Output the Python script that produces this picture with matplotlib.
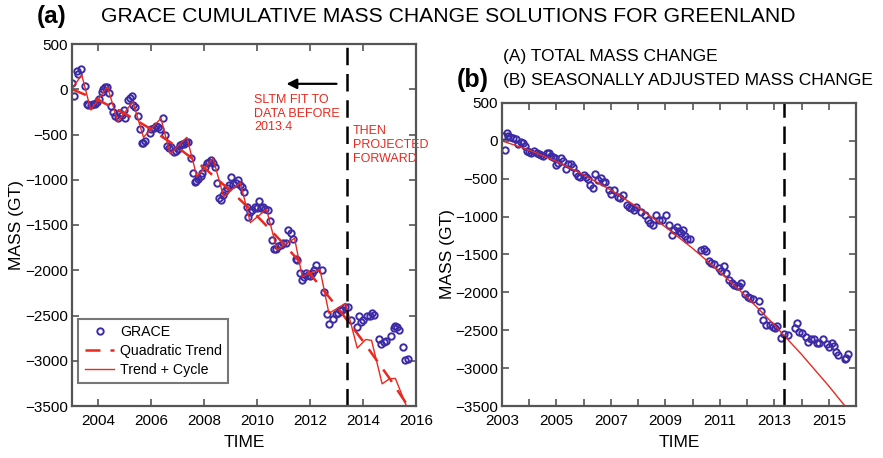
import numpy as np
import matplotlib.pyplot as plt

plt.rcParams['font.family'] = ['Liberation Sans', 'DejaVu Sans']

# ---- panel (a): GRACE total mass change (GT) ----
graceT = [2003.00, 2003.08, 2003.18, 2003.22, 2003.34, 2003.49, 2003.56, 2003.62, 2003.70, 2003.78,
          2003.86, 2003.94, 2004.02, 2004.12, 2004.19, 2004.25, 2004.33, 2004.41, 2004.48, 2004.56,
          2004.64, 2004.72, 2004.80, 2004.88, 2004.96, 2005.02, 2005.12, 2005.20, 2005.26, 2005.32,
          2005.38, 2005.50, 2005.58, 2005.64, 2005.68, 2005.76, 2005.93, 2006.00, 2006.08, 2006.16,
          2006.24, 2006.33, 2006.43, 2006.52, 2006.59, 2006.66, 2006.76, 2006.84, 2006.92, 2007.00,
          2007.08, 2007.15, 2007.22, 2007.30, 2007.38, 2007.50, 2007.58, 2007.64, 2007.70, 2007.78,
          2007.86, 2007.93, 2008.02, 2008.10, 2008.18, 2008.26, 2008.34, 2008.42, 2008.48, 2008.56,
          2008.62, 2008.70, 2008.78, 2008.86, 2008.94, 2009.02, 2009.10, 2009.18, 2009.26, 2009.34,
          2009.42, 2009.50, 2009.60, 2009.66, 2009.74, 2009.82, 2009.90, 2009.98, 2010.06, 2010.14,
          2010.22, 2010.30, 2010.40, 2010.48, 2010.56, 2010.62, 2010.70, 2010.80, 2010.88, 2010.96,
          2011.10, 2011.18, 2011.26, 2011.36, 2011.46, 2011.52, 2011.60, 2011.68, 2011.76, 2011.84,
          2011.92, 2012.00, 2012.08, 2012.14, 2012.23, 2012.44, 2012.52, 2012.62, 2012.70, 2012.86,
          2012.96, 2013.06, 2013.14, 2013.22, 2013.32, 2013.42, 2013.53, 2013.76, 2013.84, 2013.92,
          2014.00, 2014.16, 2014.26, 2014.34, 2014.42, 2014.60, 2014.68, 2014.78, 2014.86, 2015.04,
          2015.16, 2015.22, 2015.28, 2015.34, 2015.52, 2015.60, 2015.68]
graceM = [70, -80, 200, 165, 225, 40, -165, -175, -170, -165,
          -160, -140, -110, -30, 5, 25, 25, -45, -190, -250,
          -300, -320, -265, -285, -230, -320, -120, -100, -80, -175,
          -195, -300, -435, -590, -590, -575, -480, -440, -430, -410,
          -420, -440, -320, -500, -625, -645, -640, -690, -680, -655,
          -620, -610, -600, -585, -580, -765, -930, -1020, -1010, -990,
          -960, -930, -860, -815, -800, -785, -820, -855, -1035, -1200,
          -1225, -1170, -1120, -1090, -1060, -975, -1050, -1040, -1005, -1055,
          -1080, -1135, -1300, -1410, -1360, -1330, -1300, -1310, -1240, -1310,
          -1300, -1320, -1330, -1460, -1670, -1765, -1770, -1730, -1720, -1700,
          -1700, -1555, -1590, -1660, -1880, -1890, -2030, -2105, -2080, -2030,
          -2055, -2065, -2030, -2000, -1945, -2000, -2240, -2480, -2595, -2535,
          -2480, -2470, -2440, -2440, -2410, -2405, -2545, -2630, -2510, -2575,
          -2545, -2510, -2505, -2470, -2490, -2765, -2815, -2790, -2780, -2725,
          -2640, -2620, -2630, -2655, -2850, -2990, -2985]

trendYears = [2003, 2004, 2005, 2006, 2007, 2008, 2009, 2010, 2011, 2012, 2013, 2014, 2015, 2016]
quadTrend = [0, -121, -269, -443, -643, -870, -1123, -1402, -1708, -2040, -2399, -2784, -3195, -3633]

cycleT = [2003.00, 2003.37, 2003.71, 2004.34, 2004.73, 2005.30, 2005.70, 2006.36, 2006.71, 2007.34,
          2007.72, 2008.33, 2008.73, 2009.36, 2009.74, 2010.35, 2010.75, 2011.41, 2011.70, 2012.37,
          2012.71, 2013.34, 2013.78, 2014.10, 2014.32, 2014.72, 2015.00, 2015.22, 2015.72]
cycleM = [10, 157, -229, 28, -358, -137, -531, -321, -715, -531,
          -966, -763, -1187, -1032, -1474, -1326, -1776, -1647, -2071, -1990,
          -2476, -2365, -2860, -2765, -2775, -3255, -3200, -3195, -3560]

# ---- panel (b): seasonally adjusted mass change (GT) ----
adjT = [2003.05, 2003.11, 2003.17, 2003.23, 2003.30, 2003.41, 2003.50, 2003.60, 2003.69, 2003.77,
        2003.83, 2003.90, 2003.98, 2004.06, 2004.17, 2004.27, 2004.37, 2004.45, 2004.52, 2004.64,
        2004.73, 2004.81, 2004.89, 2004.94, 2005.00, 2005.06, 2005.18, 2005.25, 2005.34, 2005.44,
        2005.54, 2005.62, 2005.71, 2005.79, 2005.87, 2006.00, 2006.09, 2006.17, 2006.25, 2006.35,
        2006.43, 2006.53, 2006.63, 2006.71, 2006.80, 2006.93, 2007.01, 2007.11, 2007.26, 2007.34,
        2007.44, 2007.59, 2007.67, 2007.75, 2007.83, 2007.92, 2008.12, 2008.24, 2008.36, 2008.44,
        2008.54, 2008.66, 2008.78, 2008.86, 2009.04, 2009.14, 2009.25, 2009.33, 2009.41, 2009.49,
        2009.57, 2009.65, 2009.73, 2009.81, 2009.89, 2010.31, 2010.40, 2010.48, 2010.60, 2010.69,
        2010.79, 2010.96, 2011.05, 2011.17, 2011.24, 2011.32, 2011.43, 2011.53, 2011.63, 2011.71,
        2011.78, 2011.91, 2012.02, 2012.12, 2012.23, 2012.44, 2012.52, 2012.60, 2012.68, 2012.86,
        2012.96, 2013.04, 2013.11, 2013.26, 2013.36, 2013.50, 2013.75, 2013.83, 2013.92, 2014.02,
        2014.16, 2014.24, 2014.34, 2014.44, 2014.55, 2014.65, 2014.80, 2014.92, 2015.02, 2015.12,
        2015.20, 2015.28, 2015.35, 2015.58, 2015.64, 2015.70]
adjM = [65, -125, 100, 60, 55, 35, 20, -40, -20, -30,
        -70, -130, -150, -160, -140, -160, -170, -185, -200, -165,
        -165, -200, -215, -230, -315, -290, -230, -270, -375, -300,
        -310, -340, -430, -460, -480, -450, -475, -500, -580, -625,
        -440, -510, -485, -540, -540, -655, -700, -650, -745, -760,
        -720, -850, -870, -890, -910, -870, -940, -980, -1045, -1080,
        -1110, -980, -1040, -1040, -980, -1110, -1240, -1180, -1140, -1190,
        -1210, -1175, -1260, -1290, -1300, -1440, -1430, -1460, -1580, -1610,
        -1625, -1680, -1720, -1650, -1740, -1835, -1870, -1900, -1915, -1920,
        -1880, -2020, -2060, -2070, -2085, -2110, -2240, -2365, -2430, -2435,
        -2455, -2470, -2450, -2605, -2550, -2565, -2475, -2410, -2520, -2530,
        -2595, -2650, -2620, -2610, -2665, -2665, -2620, -2680, -2720, -2665,
        -2705, -2790, -2830, -2880, -2860, -2810]

adjTrend = [0, -122, -271, -447, -650, -880, -1136, -1419, -1729, -2065, -2429, -2819, -3236, -3680]

splitYear = 2013.4

blue = '#3d2ba6'
red = '#e8291f'
frame = '#555555'


def styleAxes(ax):
    for s in ax.spines.values():
        s.set_color(frame)
        s.set_linewidth(1.6)
    ax.tick_params(direction='in', top=True, right=True, length=5, width=1.2,
                   color=frame, labelsize=11, pad=3)
    ax.tick_params(axis='x', pad=6)
    ax.set_ylim(-3500, 500)
    ax.set_yticks(np.arange(-3500, 501, 500))
    ax.set_xlim(2003, 2016)


fig = plt.figure(figsize=(8.83, 4.58), dpi=100)

# panel (a)
ax1 = fig.add_axes([72 / 883, 1 - 406 / 458, 344 / 883, 362 / 458])
ax1.plot(graceT, graceM, 'o', ms=4.6, mfc='none', mec=blue, mew=1.4, label='GRACE')
ax1.plot(trendYears, quadTrend, '--', color=red, lw=1.8, dashes=(6, 4), label='Quadratic Trend')
ax1.plot(cycleT, cycleM, '-', color=red, lw=1.0, label='Trend + Cycle')
ax1.axvline(splitYear, color='black', lw=1.8, dashes=(7, 3.5))
styleAxes(ax1)
ax1.set_xticks(np.arange(2004, 2017, 2))
ax1.set_xlabel('TIME', fontsize=12.5, labelpad=5)
ax1.set_ylabel('MASS (GT)', fontsize=12.5, labelpad=1)
leg = ax1.legend(loc='lower left', bbox_to_anchor=(0.01, 0.055), fontsize=10.2, frameon=True,
                 fancybox=False, edgecolor=frame, handlelength=2.1, borderpad=0.45,
                 labelspacing=0.35, handletextpad=0.4, borderaxespad=0.2)
leg.get_frame().set_linewidth(1.5)

ax1.annotate('', xy=(2011.0, 60), xytext=(2013.1, 60),
             arrowprops=dict(arrowstyle='-|>', color='black', lw=1.6, mutation_scale=15))
ax1.text(2009.88, -50, 'SLTM FIT TO\nDATA BEFORE\n2013.4', color=red, fontsize=9,
         va='top', ha='left', linespacing=1.2)
ax1.text(2013.62, -400, 'THEN\nPROJECTED\nFORWARD', color=red, fontsize=9,
         va='top', ha='left', linespacing=1.2)

# panel (b)
ax2 = fig.add_axes([502 / 883, 1 - 406 / 458, 354 / 883, 303 / 458])
ax2.plot(adjT, adjM, 'o', ms=4.6, mfc='none', mec=blue, mew=1.4)
ax2.plot(trendYears, adjTrend, '-', color=red, lw=1.0)
ax2.axvline(2013.37, color='black', lw=1.8, dashes=(7, 3.5))
styleAxes(ax2)
ax2.set_xticks(np.arange(2003, 2017, 1))
ax2.set_xticklabels([str(y) if y % 2 == 1 else '' for y in range(2003, 2017)])
ax2.set_xlabel('TIME', fontsize=12.5, labelpad=5)
ax2.set_ylabel('MASS (GT)', fontsize=12.5, labelpad=0)

# titles
fig.text(37 / 883, 1 - 17 / 458, '(a)', fontsize=17.5, fontweight='bold', va='center', ha='left')
fig.text(101 / 883, 1 - 17 / 458, 'GRACE CUMULATIVE MASS CHANGE SOLUTIONS FOR GREENLAND',
         fontsize=15.2, va='center', ha='left')
fig.text(457 / 883, 1 - 80 / 458, '(b)', fontsize=18, fontweight='bold', va='center', ha='left')
fig.text(503 / 883, 1 - 56 / 458, '(A) TOTAL MASS CHANGE', fontsize=12.5, va='center', ha='left')
fig.text(503 / 883, 1 - 80 / 458, '(B) SEASONALLY ADJUSTED MASS CHANGE', fontsize=12.5,
         va='center', ha='left')

fig.savefig('out.png', dpi=100)
